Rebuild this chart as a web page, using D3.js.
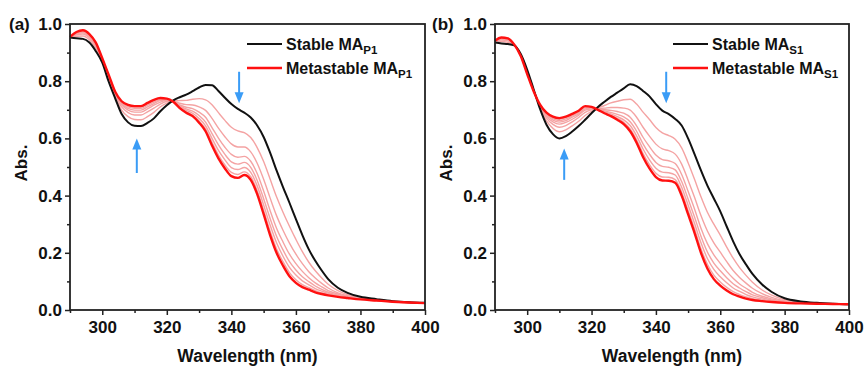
<!DOCTYPE html>
<html><head><meta charset="utf-8">
<script src="https://cdn.jsdelivr.net/npm/d3@7"></script>
<style>
body{margin:0;background:#fff}
svg{display:block}
text{font-family:Arial,"Liberation Sans",sans-serif;font-weight:bold;fill:#111}
</style>
</head><body>
<svg id="chart" width="864" height="367"></svg>
<script>
const wavelengths=[290,292,294,296,298,300,302,304,306,308,310,312,314,316,318,320,322,324,326,328,330,332,334,336,338,340,342,344,346,348,350,352,354,356,358,360,362,364,366,368,370,373,376,380,385,390,395,400];

// Panel (a)
const aStable=[0.953,0.950,0.948,0.935,0.905,0.865,0.798,0.740,0.685,0.656,0.644,0.643,0.654,0.670,0.695,0.716,0.733,0.744,0.753,0.765,0.778,0.787,0.786,0.766,0.742,0.720,0.703,0.690,0.673,0.645,0.605,0.550,0.488,0.430,0.375,0.318,0.262,0.212,0.172,0.138,0.108,0.078,0.060,0.046,0.038,0.031,0.027,0.025];
const aMeta=[0.955,0.972,0.978,0.965,0.935,0.880,0.822,0.763,0.730,0.717,0.713,0.713,0.724,0.735,0.741,0.739,0.728,0.706,0.690,0.678,0.655,0.625,0.575,0.530,0.495,0.468,0.462,0.472,0.455,0.405,0.335,0.262,0.200,0.155,0.118,0.095,0.080,0.071,0.062,0.056,0.051,0.046,0.042,0.037,0.033,0.029,0.026,0.024];
const aPink1=[0.954,0.957,0.958,0.945,0.915,0.870,0.806,0.747,0.699,0.676,0.666,0.665,0.676,0.691,0.710,0.723,0.731,0.732,0.733,0.737,0.739,0.735,0.718,0.690,0.663,0.639,0.626,0.620,0.603,0.568,0.519,0.458,0.396,0.342,0.293,0.247,0.204,0.167,0.137,0.112,0.090,0.068,0.054,0.043,0.036,0.030,0.027,0.025];
const aPink2=[0.954,0.962,0.965,0.952,0.922,0.873,0.811,0.753,0.710,0.690,0.682,0.682,0.693,0.706,0.720,0.729,0.730,0.723,0.718,0.717,0.710,0.698,0.670,0.636,0.606,0.581,0.570,0.570,0.553,0.513,0.457,0.392,0.330,0.279,0.234,0.195,0.162,0.134,0.112,0.093,0.077,0.060,0.050,0.041,0.035,0.030,0.026,0.024];
const aPink3=[0.954,0.965,0.969,0.956,0.926,0.876,0.815,0.756,0.717,0.699,0.692,0.692,0.703,0.716,0.727,0.732,0.730,0.717,0.709,0.704,0.692,0.674,0.638,0.601,0.569,0.544,0.534,0.537,0.520,0.477,0.416,0.348,0.286,0.238,0.195,0.162,0.135,0.113,0.095,0.081,0.068,0.056,0.047,0.040,0.035,0.030,0.026,0.024];
const aPink4=[0.955,0.968,0.972,0.959,0.929,0.877,0.817,0.758,0.721,0.705,0.699,0.699,0.710,0.722,0.732,0.734,0.729,0.714,0.703,0.695,0.680,0.657,0.617,0.577,0.544,0.518,0.510,0.516,0.499,0.453,0.389,0.320,0.258,0.210,0.169,0.140,0.116,0.099,0.084,0.072,0.062,0.052,0.046,0.039,0.034,0.029,0.026,0.024];
const aPink5=[0.955,0.969,0.974,0.961,0.931,0.878,0.819,0.760,0.725,0.710,0.705,0.705,0.716,0.727,0.735,0.736,0.729,0.711,0.698,0.688,0.670,0.644,0.600,0.558,0.525,0.498,0.491,0.498,0.481,0.434,0.367,0.297,0.235,0.188,0.149,0.122,0.102,0.088,0.075,0.066,0.058,0.050,0.044,0.038,0.034,0.029,0.026,0.024];
const aPink6=[0.955,0.971,0.977,0.964,0.934,0.879,0.821,0.762,0.728,0.714,0.710,0.710,0.721,0.732,0.739,0.738,0.728,0.708,0.693,0.682,0.661,0.633,0.586,0.542,0.507,0.481,0.474,0.483,0.466,0.417,0.349,0.276,0.214,0.169,0.131,0.106,0.089,0.078,0.068,0.060,0.054,0.048,0.043,0.037,0.033,0.029,0.026,0.024];

// Panel (b)
const bStable=[0.935,0.932,0.930,0.925,0.895,0.840,0.772,0.703,0.648,0.615,0.600,0.608,0.624,0.643,0.665,0.688,0.710,0.728,0.745,0.760,0.775,0.789,0.783,0.766,0.747,0.720,0.697,0.685,0.668,0.645,0.600,0.545,0.488,0.435,0.390,0.345,0.292,0.240,0.195,0.159,0.126,0.089,0.063,0.041,0.030,0.025,0.022,0.020];
const bMeta=[0.942,0.953,0.950,0.928,0.888,0.825,0.765,0.718,0.690,0.676,0.671,0.676,0.686,0.697,0.713,0.710,0.700,0.688,0.678,0.665,0.650,0.625,0.585,0.535,0.495,0.465,0.453,0.452,0.445,0.400,0.335,0.270,0.200,0.145,0.108,0.085,0.068,0.055,0.047,0.040,0.035,0.031,0.028,0.025,0.023,0.022,0.021,0.020];
const bPink1=[0.937,0.939,0.936,0.926,0.893,0.835,0.770,0.708,0.661,0.635,0.623,0.630,0.644,0.660,0.680,0.695,0.707,0.715,0.724,0.730,0.735,0.737,0.720,0.692,0.666,0.638,0.619,0.610,0.597,0.567,0.515,0.457,0.396,0.342,0.300,0.262,0.220,0.181,0.148,0.121,0.097,0.070,0.052,0.036,0.028,0.024,0.022,0.020];
const bPink2=[0.939,0.944,0.941,0.927,0.891,0.832,0.768,0.711,0.671,0.649,0.639,0.645,0.658,0.673,0.691,0.700,0.705,0.706,0.708,0.708,0.706,0.699,0.674,0.639,0.608,0.580,0.563,0.557,0.545,0.510,0.454,0.394,0.330,0.276,0.235,0.202,0.169,0.138,0.114,0.094,0.076,0.057,0.044,0.032,0.026,0.023,0.021,0.020];
const bPink3=[0.940,0.947,0.944,0.927,0.890,0.830,0.767,0.714,0.677,0.658,0.650,0.656,0.667,0.681,0.699,0.703,0.703,0.700,0.698,0.694,0.688,0.674,0.644,0.604,0.571,0.542,0.526,0.522,0.512,0.474,0.415,0.353,0.286,0.232,0.193,0.163,0.135,0.111,0.091,0.076,0.062,0.048,0.039,0.030,0.025,0.023,0.021,0.020];
const bPink4=[0.941,0.949,0.946,0.927,0.889,0.828,0.766,0.715,0.682,0.664,0.657,0.662,0.674,0.686,0.703,0.706,0.702,0.696,0.691,0.684,0.675,0.658,0.625,0.581,0.545,0.516,0.502,0.499,0.490,0.449,0.388,0.325,0.258,0.203,0.164,0.137,0.113,0.092,0.077,0.064,0.053,0.043,0.035,0.028,0.024,0.023,0.021,0.020];
const bPink5=[0.941,0.950,0.948,0.928,0.889,0.827,0.766,0.716,0.685,0.669,0.662,0.668,0.679,0.691,0.707,0.707,0.701,0.693,0.686,0.676,0.665,0.645,0.609,0.563,0.525,0.496,0.482,0.480,0.472,0.429,0.367,0.303,0.235,0.180,0.142,0.116,0.095,0.077,0.065,0.054,0.046,0.038,0.032,0.027,0.024,0.022,0.021,0.020];
const bPink6=[0.942,0.952,0.949,0.928,0.888,0.826,0.765,0.717,0.688,0.673,0.667,0.673,0.683,0.694,0.711,0.709,0.701,0.690,0.681,0.670,0.656,0.633,0.595,0.547,0.508,0.478,0.465,0.464,0.456,0.412,0.348,0.284,0.214,0.160,0.122,0.098,0.079,0.064,0.054,0.046,0.040,0.034,0.030,0.026,0.023,0.022,0.021,0.020];

const xMajorTicks=[300,320,340,360,380,400];
const xMinorTicks=[290,310,330,350,370,390];
const yMajorTicks=[0.0,0.2,0.4,0.6,0.8,1.0];
const yMinorTicks=[0.1,0.3,0.5,0.7,0.9];
const panelLabels=["(a)","(b)"];
const legendSubs=["P1","S1"];
const xTitle="Wavelength (nm)";
const yTitle="Abs.";
// arrow annotations in data units: [wavelength, fromAbs, toAbs]
const aArrows=[[342.4,0.833,0.723],[310.7,0.479,0.600]];
const bArrows=[[343.2,0.833,0.723],[311.5,0.455,0.565]];

const svg=d3.select("#chart");
const panels=[
  {label:panelLabels[0],sub:legendSubs[0],stable:aStable,meta:aMeta,pinks:[aPink1,aPink2,aPink3,aPink4,aPink5,aPink6],arrows:aArrows,left:70,right:425,labelX:9,titleX:20,legX:247},
  {label:panelLabels[1],sub:legendSubs[1],stable:bStable,meta:bMeta,pinks:[bPink1,bPink2,bPink3,bPink4,bPink5,bPink6],arrows:bArrows,left:495,right:849,labelX:432,titleX:445,legX:673}
];
const plotTop=24,plotBottom=310;

panels.forEach(p=>{
  const x=d3.scaleLinear().domain([290,400]).range([p.left,p.right]);
  const y=d3.scaleLinear().domain([0,1]).range([plotBottom,plotTop]);
  const g=svg.append("g");
  const line=arr=>d3.line().x((d,i)=>x(wavelengths[i])).y(d=>y(d)).curve(d3.curveMonotoneX)(arr);

  // axes
  const xa=g.append("g").attr("transform",`translate(0,${plotBottom})`)
    .call(d3.axisBottom(x).tickValues(xMajorTicks).tickSize(5).tickPadding(6).tickFormat(d3.format("d")));
  const xm=g.append("g").attr("transform",`translate(0,${plotBottom})`)
    .call(d3.axisBottom(x).tickValues(xMinorTicks).tickSize(3).tickFormat(""));
  const ya=g.append("g").attr("transform",`translate(${p.left},0)`)
    .call(d3.axisLeft(y).tickValues(yMajorTicks).tickSize(5).tickPadding(3).tickFormat(d3.format(".1f")));
  const ym=g.append("g").attr("transform",`translate(${p.left},0)`)
    .call(d3.axisLeft(y).tickValues(yMinorTicks).tickSize(3).tickFormat(""));
  [xa,xm,ya,ym].forEach(a=>{
    a.select(".domain").remove();
    a.selectAll("line").attr("stroke","#222").attr("stroke-width",1.5);
    a.selectAll("text").attr("font-size",17).attr("font-weight","bold").attr("fill","#111")
      .attr("font-family","Arial, 'Liberation Sans', sans-serif");
  });

  // curves
  p.pinks.forEach(arr=>{
    g.append("path").attr("d",line(arr)).attr("fill","none").attr("stroke","#f4a3a3").attr("stroke-width",1.4);
  });
  g.append("path").attr("d",line(p.stable)).attr("fill","none").attr("stroke","#111").attr("stroke-width",2);
  g.append("path").attr("d",line(p.meta)).attr("fill","none").attr("stroke","#ff1010").attr("stroke-width",2.4);

  // frame
  g.append("rect").attr("x",p.left).attr("y",plotTop).attr("width",p.right-p.left).attr("height",plotBottom-plotTop)
    .attr("fill","none").attr("stroke","#222").attr("stroke-width",1.8);

  // arrows
  p.arrows.forEach(([w,a0,a1])=>{
    const xx=x(w),y0=y(a0),y1=y(a1);
    const dir=y1>y0?1:-1;
    g.append("line").attr("x1",xx).attr("x2",xx).attr("y1",y0).attr("y2",y1-dir*9)
      .attr("stroke","#3a9cf6").attr("stroke-width",2);
    g.append("path").attr("d",`M${xx-4.5},${y1-dir*11}L${xx+4.5},${y1-dir*11}L${xx},${y1}Z`).attr("fill","#3a9cf6");
  });

  // panel label
  svg.append("text").attr("x",p.labelX).attr("y",30).attr("font-size",17).text(p.label);
  // y title
  svg.append("text").attr("transform",`translate(${p.titleX+7},163) rotate(-90)`).attr("text-anchor","middle")
    .attr("font-size",17).text(yTitle);
  // x title
  svg.append("text").attr("x",(p.left+p.right)/2).attr("y",362).attr("text-anchor","middle")
    .attr("font-size",17.5).text(xTitle);

  // legend
  const legItems=[["Stable MA","#111",2,44],["Metastable MA","#ff1010",2.4,68]];
  legItems.forEach(([t,c,w,ly])=>{
    g.append("line").attr("x1",p.legX).attr("x2",p.legX+35).attr("y1",ly).attr("y2",ly).attr("stroke",c).attr("stroke-width",w);
    const tx=g.append("text").attr("x",p.legX+39).attr("y",ly+6).attr("font-size",16);
    tx.append("tspan").text(t);
    tx.append("tspan").attr("dy",4).attr("font-size",11.5).text(p.sub);
  });
});
</script>
</body></html>
